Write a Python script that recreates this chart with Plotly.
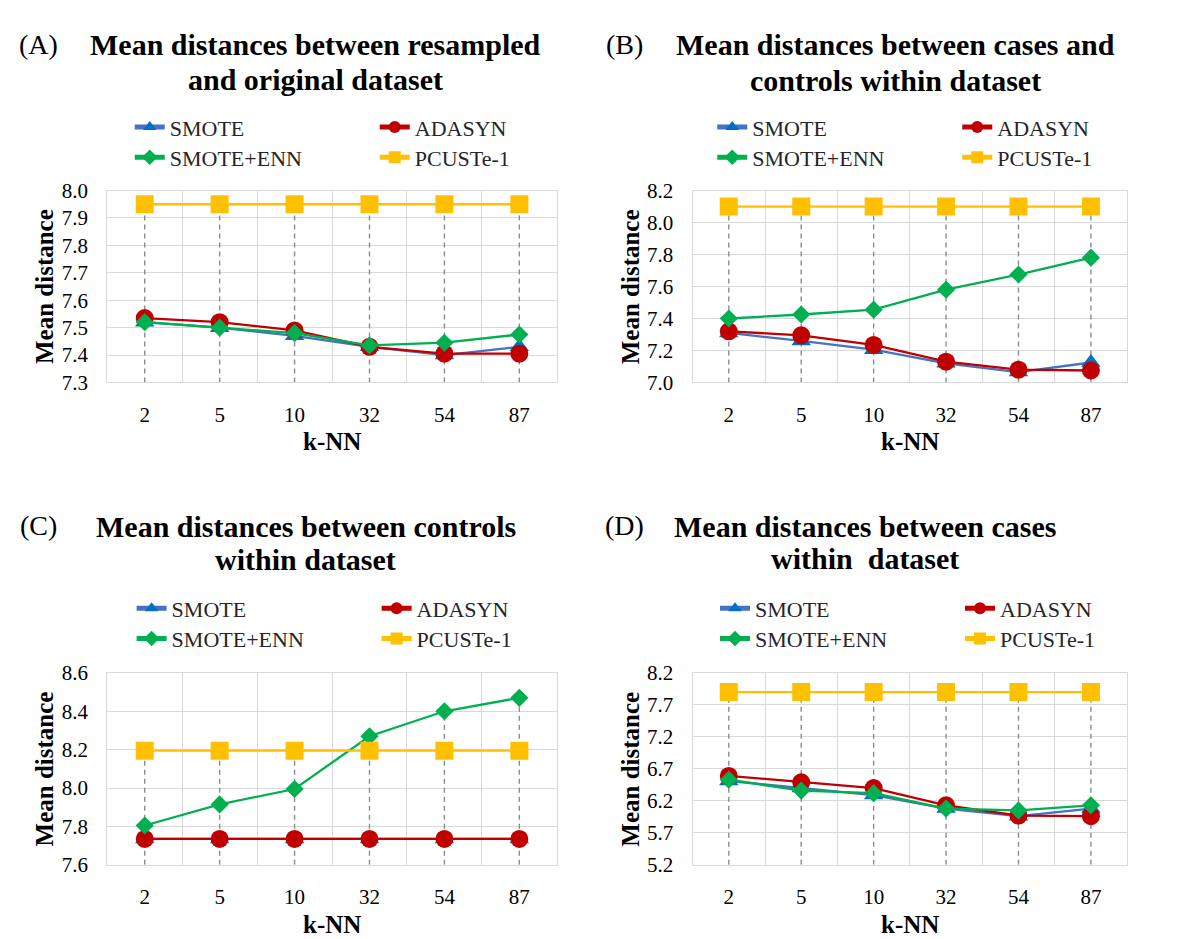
import plotly.graph_objects as go

# ---------------- data ----------------
knn = ["2", "5", "10", "32", "54", "87"]
series_names = ["SMOTE", "ADASYN", "SMOTE+ENN", "PCUSTe-1"]

A_smote = [7.52, 7.50, 7.47, 7.43, 7.40, 7.43]
A_adasyn = [7.535, 7.52, 7.49, 7.43, 7.405, 7.405]
A_enn = [7.52, 7.50, 7.48, 7.435, 7.445, 7.475]
A_pcuste = [7.95, 7.95, 7.95, 7.95, 7.95, 7.95]

B_smote = [7.31, 7.26, 7.205, 7.12, 7.065, 7.125]
B_adasyn = [7.32, 7.295, 7.235, 7.13, 7.08, 7.075]
B_enn = [7.40, 7.425, 7.455, 7.58, 7.675, 7.78]
B_pcuste = [8.10, 8.10, 8.10, 8.10, 8.10, 8.10]

C_smote = [7.735, 7.735, 7.735, 7.735, 7.735, 7.735]
C_adasyn = [7.735, 7.735, 7.735, 7.735, 7.735, 7.735]
C_enn = [7.805, 7.915, 7.995, 8.27, 8.40, 8.47]
C_pcuste = [8.195, 8.195, 8.195, 8.195, 8.195, 8.195]

D_smote = [6.51, 6.40, 6.29, 6.08, 5.96, 6.08]
D_adasyn = [6.59, 6.49, 6.40, 6.13, 5.97, 5.96]
D_enn = [6.53, 6.36, 6.32, 6.08, 6.05, 6.13]
D_pcuste = [7.90, 7.90, 7.90, 7.90, 7.90, 7.90]

panel_letters = ["(A)", "(B)", "(C)", "(D)"]
titles = [
    ["Mean distances between resampled", "and original dataset"],
    ["Mean distances between cases and", "controls within dataset"],
    ["Mean distances between controls", "within dataset"],
    ["Mean distances between cases", "within\u00a0 dataset"],
]
y_ranges = [(7.3, 8.0, 0.1), (7.0, 8.2, 0.2), (7.6, 8.6, 0.2), (5.2, 8.2, 0.5)]
panels = [
    [A_smote, A_adasyn, A_enn, A_pcuste],
    [B_smote, B_adasyn, B_enn, B_pcuste],
    [C_smote, C_adasyn, C_enn, C_pcuste],
    [D_smote, D_adasyn, D_enn, D_pcuste],
]

# ---------------- style ----------------
W, H = 1197, 939
FONT = "Liberation Serif"
line_colors = ["#4472C4", "#C00000", "#00B050", "#FFC000"]
marker_colors = ["#0070C0", "#C00000", "#00B050", "#FFC000"]
symbols = ["triangle-up", "circle", "diamond", "square"]
sizes = [17, 18, 14, 18]
GRID = "#D9D9D9"

# pixel layout per panel: (plot left, plot right, plot top, plot bottom)
boxes = [(106, 586, 175, 372), (731, 1195, 175, 372),
         (106, 586, 670, 867), (731, 1195, 670, 867)]
title_cx = [328, 948, 318, 915]
title_y = [(25, 61), (25, 62), (520, 554), (520, 553)]
letter_pos = [(33, 25), (658, 25), (33, 519), (658, 519)]
legend_x = [130, 752, 132, 755]
legend_rows = [(110, 141), (110, 141), (604, 635), (604, 635)]
ytitle_x = [39, 665, 39, 665]


def px(x):
    return x / W


def py(y):
    return 1 - y / H


fig = go.Figure()
annotations = []
layout_extra = {}

for p in range(4):
    ax = "" if p == 0 else str(p + 1)
    xref, yref = "x" + ax, "y" + ax
    l, r, t, b = boxes[p]
    ylo, yhi, dt = y_ranges[p]
    data = panels[p]

    # drop lines: from the highest point of each category to the axis bottom
    dx, dy = [], []
    for i, k in enumerate(knn):
        top = max(s[i] for s in data)
        dx += [k, k, None]
        dy += [ylo, top, None]
    fig.add_trace(go.Scatter(x=dx, y=dy, mode="lines", xaxis=xref, yaxis=yref,
                             line=dict(color="#8C8C8C", width=1.4, dash="5px,4px"),
                             showlegend=False, hoverinfo="skip"))

    for s in range(4):
        leg_name = "legend" + ("" if (2 * p + s // 2) == 0 else str(2 * p + s // 2 + 1))
        fig.add_trace(go.Scatter(
            x=knn, y=data[s], mode="lines+markers", name=series_names[s],
            xaxis=xref, yaxis=yref, legend=leg_name,
            line=dict(color=line_colors[s], width=2.3),
            marker=dict(symbol=symbols[s], size=sizes[s], color=marker_colors[s],
                        line=dict(width=0)),
        ))

    layout_extra["xaxis" + ax] = dict(
        domain=[px(l), px(r)], anchor=yref, type="category",
        range=[-0.5, 5.5], tickson="boundaries", showgrid=True, gridcolor=GRID,
        gridwidth=1.3, showline=True, linecolor=GRID, linewidth=1.3, mirror=True,
        ticks="", ticklabelstandoff=13, zeroline=False,
        tickfont=dict(family=FONT, size=21, color="#000000"),
    )
    layout_extra["yaxis" + ax] = dict(
        domain=[py(b), py(t)], anchor=xref, range=[ylo, yhi], dtick=dt, tick0=ylo,
        tickformat=".1f", showgrid=True, gridcolor=GRID, gridwidth=1.3,
        showline=True, linecolor=GRID, linewidth=1.3, mirror=True, zeroline=False,
        ticks="", ticklabelstandoff=14,
        tickfont=dict(family=FONT, size=21, color="#000000"),
    )

    # legends (two rows, two columns)
    for row in range(2):
        idx = 2 * p + row
        key = "legend" + ("" if idx == 0 else str(idx + 1))
        layout_extra[key] = dict(
            x=px(legend_x[p]), xanchor="left", y=py(legend_rows[p][row]),
            yanchor="middle", orientation="h", entrywidth=200, entrywidthmode="pixels",
            itemsizing="constant", bgcolor="rgba(0,0,0,0)", borderwidth=0,
            font=dict(family=FONT, size=22, color="#262626"),
            tracegroupgap=0,
        )

    # titles
    for j in range(2):
        annotations.append(dict(
            text="<b>%s</b>" % titles[p][j], x=px(title_cx[p]), y=py(title_y[p][j]),
            xref="paper", yref="paper", xanchor="center", yanchor="middle",
            showarrow=False, font=dict(family=FONT, size=30, color="#000000")))
    annotations.append(dict(
        text=panel_letters[p], x=px(letter_pos[p][0]), y=py(letter_pos[p][1]),
        xref="paper", yref="paper", xanchor="center", yanchor="middle",
        showarrow=False, font=dict(family=FONT, size=28, color="#000000")))
    # axis titles
    annotations.append(dict(
        text="<b>Mean distance</b>", x=px(ytitle_x[p]), y=py((t + b) / 2),
        xref="paper", yref="paper", xanchor="center", yanchor="middle",
        textangle=-90, showarrow=False, font=dict(family=FONT, size=25, color="#000000")))
    annotations.append(dict(
        text="<b>k-NN</b>", x=px((l + r) / 2), y=py(b + 61),
        xref="paper", yref="paper", xanchor="center", yanchor="middle",
        showarrow=False, font=dict(family=FONT, size=25, color="#000000")))

fig.update_layout(
    width=W, height=H, margin=dict(l=0, r=0, t=0, b=0),
    paper_bgcolor="white", plot_bgcolor="white",
    annotations=annotations, **layout_extra,
)

fig.write_html("out.html")
